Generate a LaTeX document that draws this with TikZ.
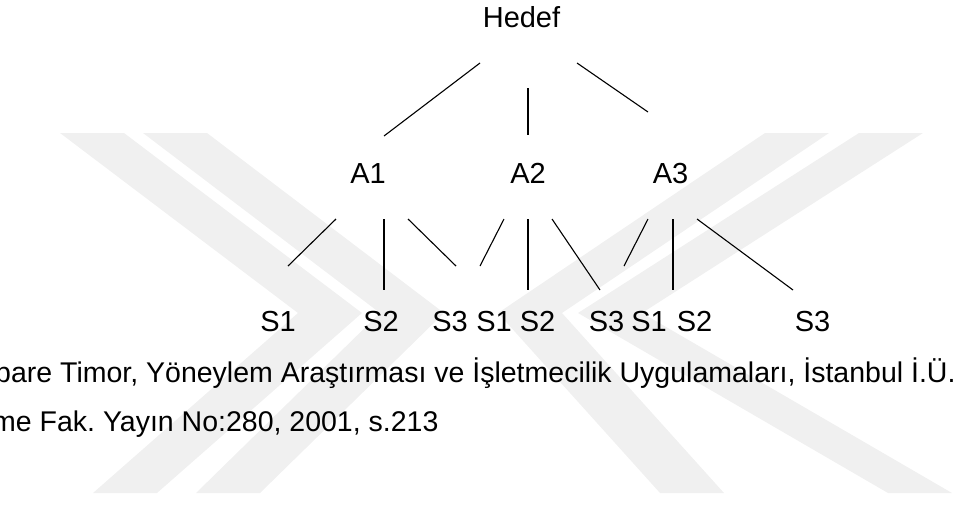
\documentclass[tikz,border=0pt]{standalone}
\usepackage{fontspec}
\setmainfont{Liberation Sans}
\usetikzlibrary{positioning}
\frenchspacing

\begin{document}
\begin{tikzpicture}[x=1pt,y=-1pt,
    lbl/.style={inner sep=0pt,anchor=base,font=\fontsize{29}{34}\selectfont},
    src/.style={inner sep=0pt,anchor=base west,font=\fontsize{28.5}{34}\selectfont},
    link/.style={draw=black,line width=1.1pt},
    mark band/.style={fill=black!6,draw=none}]
    \path[use as bounding box,clip] (0,0) rectangle (977,509);
    % watermark
    \foreach \t/\m/\b in {92/330/125, 175/412/228}
      \fill[mark band] (\t-32,133) -- (\t+32,133) -- (\m+32,313) -- (\b+32,493)
        -- (\b-32,493) -- (\m-32,313) -- cycle;
    \foreach \t/\m/\b in {891/610/920, 797/530/692}
      \fill[mark band] (\t-32,133) -- (\t+32,133) -- (\m+32,313) -- (\b+32,493)
        -- (\b-32,493) -- (\m-32,313) -- cycle;
    % tree
    \node[lbl] (hedef) at (521.5,27)  {Hedef};
    \node[lbl] (a1)    at (368,183)   {A1};
    \node[lbl] (a2)    at (528,183)   {A2};
    \node[lbl] (a3)    at (670.5,183) {A3};
    \node[lbl] (s11)   at (278,331)   {S1};
    \node[lbl] (s12)   at (381,331)   {S2};
    \node[lbl] (s13)   at (450,331)   {S3};
    \node[lbl] (s21)   at (494,331)   {S1};
    \node[lbl] (s22)   at (537.5,331) {S2};
    \node[lbl] (s23)   at (606.5,331) {S3};
    \node[lbl] (s31)   at (649,331)   {S1};
    \node[lbl] (s32)   at (694.5,331) {S2};
    \node[lbl] (s33)   at (812.5,331) {S3};
    \path[link]
    ([shift={(-41.5,36)}]hedef.base) edge ([shift={(16,-47)}]a1.base)
    ([shift={(6.5,61)}]hedef.base)   edge ([shift={(0,-48)}]a2.base)
    ([shift={(55.5,36)}]hedef.base)  edge ([shift={(-22.5,-71)}]a3.base)
    ([shift={(-32,36)}]a1.base)      edge ([shift={(10,-65)}]s11.base)
    ([shift={(16,36)}]a1.base)       edge ([shift={(3,-41)}]s12.base)
    ([shift={(40,36)}]a1.base)       edge ([shift={(6,-65)}]s13.base)
    ([shift={(-24,36)}]a2.base)      edge ([shift={(-14,-65)}]s21.base)
    ([shift={(0,36)}]a2.base)        edge ([shift={(-9.5,-41)}]s22.base)
    ([shift={(24,36)}]a2.base)       edge ([shift={(-6.5,-41)}]s23.base)
    ([shift={(-22.5,36)}]a3.base)    edge ([shift={(-25,-65)}]s31.base)
    ([shift={(2.5,36)}]a3.base)      edge ([shift={(-21.5,-41)}]s32.base)
    ([shift={(26.5,36)}]a3.base)     edge ([shift={(-19.5,-41)}]s33.base);
    % source
    \node[src] (src1) at (-5,382) {pare Timor, Yöneylem Araştırması ve İşletmecilik Uygulamaları, İstanbul İ.Ü.};
    \node[src] (src2) at (-8,431) {me Fak. Yayın No:280, 2001, s.213};
\end{tikzpicture}
\end{document}
